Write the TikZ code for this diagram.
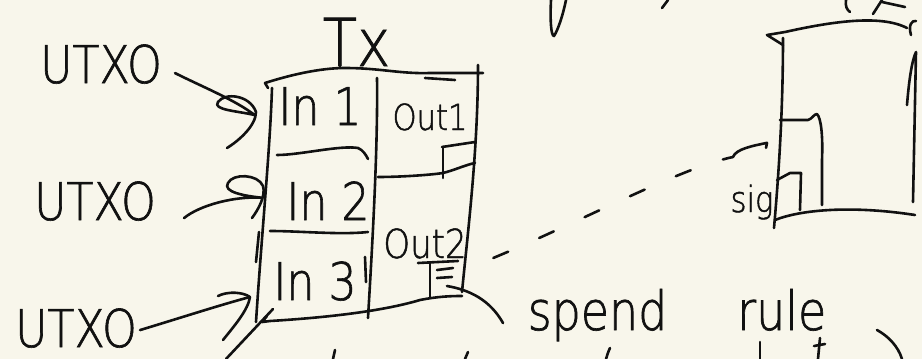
\documentclass[tikz,border=0pt]{standalone}
\usepackage{fontspec}
\newfontfamily\hand{DejaVu Sans ExtraLight}[FakeStretch=0.85, FakeBold=1.2]
\usetikzlibrary{calc}
\definecolor{paper}{HTML}{F8F6EB}
\definecolor{ink}{HTML}{111111}
\tikzset{
  pen/.style={draw=ink, line width=2.6pt, line cap=round, line join=round},
  hw/.style={inner sep=0pt, anchor=base, text=ink},
  fs/.style={font=\hand\fontsize{#1}{#1}\selectfont},
}
\begin{document}
\begin{tikzpicture}[x=1pt,y=-1pt]
\fill[paper] (0,0) rectangle (922,359);
\useasboundingbox (0,0) rectangle (922,359);

% ---- labels
\node[hw,fs=52pt] (utxo1) at (101,83) {UTXO};
\node[hw,fs=52pt] (utxo2) at (95,220) {UTXO};
\node[hw,fs=52pt] (utxo3) at (76,347) {UTXO};
\node[hw,fs=66pt] (tx) at (356.5,66) {Tx};
\node[hw,fs=52pt] (in1) at (320,125) {In 1};
\node[hw,fs=52pt] (in2) at (328,220) {In 2};
\node[hw,fs=52pt] (in3) at (315,300) {In 3};
\node[hw,fs=36pt] (out1) at (430,130) {Out1};
\node[hw,fs=40pt] (out2) at (425,258) {Out2};
\node[hw,fs=36pt] (sig) at (752,212) {sig};
\node[hw,fs=54pt] (spend) at (677,330) {spend\hspace{70pt}rule};

% ---- Tx box
\coordinate (boxtop) at (340,68);
\draw[pen] (boxtop) -- (boxtop |- tx.base);
\draw[pen] (268,88) -- (265,83) .. controls (290,75) and (320,68) .. (345,68)
  .. controls (380,68) and (400,74) .. (430,73) -- (483,73);
\draw[pen] (425,78) -- (455,80);
\draw[pen] (272,88) .. controls (270,150) and (262,230) .. (256,322);
\draw[pen] (259,232) -- (256,262);
\draw[pen] (267,316) -- (262,322) -- (270,321) .. controls (320,318) and (380,312) .. (420,300)
  .. controls (440,296) and (455,296) .. (462,296);
\draw[pen] (377,78) .. controls (378,150) and (372,250) .. (368,318);
\draw[pen] (365,257) -- (366,282);
\draw[pen] (478,65) .. controls (478,150) and (468,230) .. (462,292);
\draw[pen] (277,155) .. controls (300,155) and (340,145) .. (358,148)
  .. controls (363,150) and (366,155) .. (368,159);
\draw[pen] (270,231) .. controls (300,231) and (340,235) .. (368,232);
\draw[pen] (378,177) .. controls (400,177) and (430,175) .. (443,173)
  .. controls (455,170) and (465,165) .. (475,163);
\draw[pen] (442,147) -- (475,142);
\draw[pen] (443,147) -- (443,178);
% glyph under Out2
\draw[pen] (418,263) -- (458,261);
\draw[pen] (430,263) -- (430,298);
\draw[pen] (437,270) -- (453,268);
\draw[pen] (437,278) -- (452,277);

% ---- UTXO arrows
\draw[pen] ($(utxo1.east)+(13,9)$) .. controls (205,88) and (235,100) .. ($(in1.west)+(-23.5,9)$)
  .. controls (238,111) and (212,110) .. (218,102)
  .. controls (225,92) and (250,95) .. (256,112)
  .. controls (256,125) and (240,140) .. (227,148);
\draw[pen] ($(utxo2.east)+(28,17)$) .. controls (200,205) and (235,196) .. ($(in2.west)+(-24.5,-3)$)
  .. controls (245,196) and (222,192) .. (228,183)
  .. controls (233,173) and (258,174) .. (263,186)
  .. controls (266,196) and (258,210) .. (252,218);
\draw[pen] ($(utxo3.east)+(3,2)$) .. controls (180,318) and (220,305) .. ($(in3.west)+(-23.5,16)$);
\draw[pen] (218,296) .. controls (228,291) and (243,292) .. (250,297)
  .. controls (248,310) and (235,325) .. (223,340);
\draw[pen] (273,309) -- (226,359);

% ---- spend rule connector
\draw[pen] (447,286) .. controls (470,290) and (490,300) .. ($(spend.west)+(-24.5,8)$);

% ---- dashed connector Out2 -> sig
\draw[pen, dash pattern=on 16pt off 34pt] ($(out2.east)+(26.5,14.5)$)
  .. controls (580,222) and (680,168) .. (733,157);
\draw[pen] (733,157) .. controls (736,149) and (752,146) .. ($(sig.north)+(15,-41.6)$) -- ++(-1,5);

% ---- right box
\draw[pen] (783,45) -- (767,35) -- (785,32) .. controls (830,22) and (880,14) .. (907,28);
\draw[pen] (783,38) .. controls (783,100) and (780,160) .. (774,228);
\draw[pen] (911,35) .. controls (908,25) and (912,20) .. (916,21);
\draw[pen] (907,105) .. controls (909,80) and (912,60) .. (916,52) -- (913,202);
\draw[pen] (775,220) .. controls (800,210) and (850,205) .. (915,215);
\draw[pen] (780,120) -- (808,120) .. controls (812,119) and (814,114) .. (817,114)
  .. controls (821,118) and (823,135) .. (822,160) -- (822,205);
\draw[pen] (777,180) -- (790,173) -- (801,173) -- (800,210);

% ---- fragments at the edges
\draw[pen] (551,0) .. controls (550,20) and (551,36) .. (554,36) .. controls (558,30) and (563,15) .. (566,0);
\draw[pen] (662,8) -- (668,0);
\draw[pen] (846,0) .. controls (845,6) and (847,10) .. (850,12);
\draw[pen] (873,14) -- (882,0);
\draw[pen] (882,2) -- (905,7);
\draw[pen] (335,350) -- (333,359);
\draw[pen] (468,352) -- (465,359);
\draw[pen] (610,348) .. controls (608,352) and (607,356) .. (606,359);
\draw[pen] (760,342) -- (760,359);
\draw[pen] (820,338) -- (818,359);
\draw[pen] (814,346) -- (825,344);
\draw[pen] (877,330) .. controls (888,336) and (898,346) .. (902,359);
\end{tikzpicture}
\end{document}
